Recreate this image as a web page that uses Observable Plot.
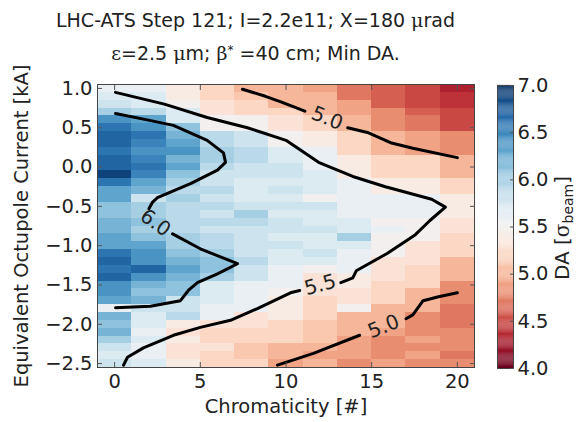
<!DOCTYPE html>
<html><head><meta charset="utf-8">
<script src="https://cdn.jsdelivr.net/npm/d3@7"></script>
<script src="https://cdn.jsdelivr.net/npm/@observablehq/plot@0.6"></script>
<style>
body{margin:0;background:#fff;font-family:"DejaVu Sans",sans-serif;}
#wrap{position:relative;width:583px;height:422px;overflow:hidden;background:#fff}
#wrap svg{position:absolute;left:0;top:0}
.title{position:absolute;left:0;width:511px;text-align:center;font-size:19px;line-height:22px;color:#222;white-space:nowrap}
.greek{font-family:"DejaVu Serif",serif}
#cblabel{position:absolute;left:565px;top:228px;transform:translate(-50%,-50%) rotate(-90deg);font-size:20px;line-height:24px;white-space:nowrap;color:#222}
#cblabel sub{font-size:14px;vertical-align:-4px}
</style></head>
<body><div id="wrap">
<div class="title" style="top:9px">LHC-ATS Step 121; I=2.2e11; X=180 <span class="greek">μ</span>rad</div>
<div class="title" style="top:39px"><span class="greek">ε</span>=2.5 <span class="greek">μ</span>m; <span class="greek">β</span><sup style="font-size:12px;vertical-align:6px">*</sup> =40 cm; Min DA.</div>
<div id="cblabel">DA [<span class="greek">σ</span><sub>beam</sub>]</div>
</div>
<script>
// Chromaticity (column centres) and octupole current (row centres, kA)
const chroma = [0, 2, 4, 6, 8, 10, 12, 14, 16, 18, 20];
const current = [1.0, 0.9, 0.8, 0.7, 0.6, 0.5, 0.4, 0.3, 0.2, 0.1, 0.0,
  -0.1, -0.2, -0.3, -0.4, -0.5, -0.6, -0.7, -0.8, -0.9, -1.0,
  -1.1, -1.2, -1.3, -1.4, -1.5, -1.6, -1.7, -1.8, -1.9, -2.0,
  -2.1, -2.2, -2.3, -2.4, -2.5];

// Min DA [sigma_beam], one array per chromaticity column, rows from 1.0 down to -2.5 kA
const da0  = [5.6,5.7,5.8,6.0,6.4,6.6,6.7,6.7,6.6,6.7,6.7,6.9,6.6,6.3,6.3,6.1,6.1,6.2,6.2,6.3,6.3,6.6,6.7,6.6,6.7,6.4,6.4,6.3,5.6,6.2,6.1,6.2,6.0,5.8,5.7,5.8];
const da2  = [5.6,5.7,5.7,5.9,6.3,6.4,6.6,6.5,6.4,6.5,6.6,6.5,6.3,6.2,5.8,6.0,6.0,6.1,6.0,6.1,6.3,6.4,6.4,6.7,6.4,6.2,6.1,6.2,5.8,5.7,5.7,5.6,5.7,5.6,5.6,5.7];
const da4  = [5.4,5.4,5.5,5.7,5.7,6.1,6.2,6.3,6.4,6.2,6.3,6.1,6.0,5.9,6.0,5.9,5.9,5.9,5.9,6.0,6.0,6.1,6.2,6.3,6.2,6.1,6.1,5.8,5.8,5.9,5.4,5.3,5.4,5.3,5.3,5.4];
const da6  = [5.2,5.2,5.3,5.3,5.5,5.5,5.9,5.9,6.0,6.0,5.9,5.8,5.8,5.9,5.8,5.9,5.8,5.9,5.8,5.9,5.9,6.0,6.1,6.1,6.0,5.7,5.7,5.7,5.6,5.6,5.3,5.2,5.2,5.3,5.2,5.2];
const da8  = [5.0,5.1,5.2,5.2,5.5,5.5,5.8,5.8,5.9,5.9,5.8,5.8,5.7,5.7,5.7,5.8,6.0,5.9,5.8,5.8,5.8,5.8,5.9,5.8,5.8,5.6,5.6,5.6,5.6,5.3,5.3,5.2,5.2,5.1,5.1,5.2];
const da10 = [5.0,5.0,5.0,5.2,5.3,5.3,5.5,5.5,5.7,5.7,5.8,5.8,5.7,5.8,5.7,5.8,5.7,5.8,5.8,5.7,5.8,5.7,5.7,5.6,5.6,5.6,5.5,5.4,5.4,5.4,5.2,5.2,5.2,5.0,5.0,4.9];
const da12 = [4.9,5.0,5.0,5.0,5.2,5.2,5.4,5.4,5.6,5.6,5.6,5.7,5.7,5.7,5.5,5.8,5.7,5.7,5.8,5.7,5.7,5.8,5.7,5.5,5.3,5.3,5.3,5.2,5.2,5.2,5.1,5.1,5.1,5.0,4.9,5.0];
const da14 = [4.7,4.7,4.9,4.9,5.0,5.0,5.2,5.2,5.2,5.4,5.4,5.4,5.6,5.6,5.6,5.6,5.6,5.7,5.7,6.0,5.7,5.6,5.6,5.6,5.4,5.4,5.3,5.3,5.5,5.0,5.0,5.0,4.9,4.9,4.9,4.8];
const da16 = [4.6,4.6,4.6,4.8,4.8,4.8,5.0,5.0,5.0,5.2,5.2,5.2,5.4,5.4,5.6,5.6,5.6,5.5,5.6,5.5,5.5,5.5,5.3,5.3,5.3,5.2,5.2,5.2,5.0,5.0,5.0,4.9,4.8,4.8,4.8,4.9];
const da18 = [4.5,4.5,4.5,4.6,4.7,4.7,4.9,4.9,4.9,5.2,5.2,5.2,5.4,5.4,5.6,5.6,5.6,5.5,5.5,5.5,5.3,5.3,5.3,5.2,5.2,5.2,5.0,5.0,5.0,4.8,4.8,4.8,4.9,4.8,4.9,4.8];
const da20 = [4.3,4.4,4.4,4.5,4.5,4.5,4.8,4.8,4.8,5.0,5.0,5.0,5.2,5.2,5.4,5.4,5.4,5.3,5.3,5.2,5.2,5.2,5.0,5.0,5.0,4.8,4.8,4.8,4.7,4.7,4.7,4.8,4.8,4.8,4.7,4.8];
const daColumns = [da0, da2, da4, da6, da8, da10, da12, da14, da16, da18, da20];

// Contour lines [chromaticity, current], split where the level label sits
const c60a = [[0.05,0.68],[1.9,0.60],[3.43,0.53],[5.4,0.34],[6.35,0.18],[6.47,0.06],[6.0,-0.04],[4.43,-0.21],[2.5,-0.39],[2.2,-0.45],[2.0,-0.53]];
const c60b = [[3.38,-0.85],[5.0,-1.04],[7.17,-1.23],[6.0,-1.36],[4.83,-1.47],[4.3,-1.57],[3.84,-1.70],[2.09,-1.77],[0.05,-1.79]];
const c55a = [[0.05,0.95],[2.9,0.80],[5.4,0.63],[7.75,0.50],[10.0,0.34],[11.9,0.06],[13.9,-0.12],[15.8,-0.25],[18.5,-0.41],[19.3,-0.51],[18.4,-0.68],[17.55,-0.86],[15.9,-1.10],[14.1,-1.32],[13.9,-1.41],[13.2,-1.47]];
const c55b = [[10.8,-1.57],[10.26,-1.60],[8.33,-1.80],[6.76,-1.95],[5.0,-2.04],[3.43,-2.14],[1.68,-2.30],[0.75,-2.42],[0.52,-2.52]];
const c50a = [[7.46,0.99],[8.8,0.90],[9.7,0.83],[11.1,0.71]];
const c50b = [[13.6,0.50],[14.75,0.44],[16.1,0.31],[17.4,0.24],[20.0,0.12]];
const c50c = [[9.5,-2.52],[11.6,-2.37],[14.3,-2.14]];
const c50d = [[17.0,-1.93],[17.4,-1.88],[18.0,-1.70],[18.9,-1.65],[20.0,-1.60]];
const contourSegments = [c60a, c60b, c55a, c55b, c50a, c50b, c50c, c50d];

// Contour level labels
const labelText = ["6.0", "5.5", "5.0", "5.0"];
const labelC = [2.38, 12.0, 12.4, 15.7];
const labelY = [-0.71, -1.50, 0.62, -2.03];
const labelAngle = [35, -15, 22, -22];

const xTicks = [0, 5, 10, 15, 20];
const yTicks = [1.0, 0.5, 0.0, -0.5, -1.0, -1.5, -2.0, -2.5];
const cbTicks = [4.0, 4.5, 5.0, 5.5, 6.0, 6.5, 7.0];

const cells = chroma.flatMap((c, j) => current.map((y, i) => ({c, y, v: daColumns[j][i]})));
const contours = contourSegments.flatMap((seg, k) => seg.map(([c, y]) => ({c, y, seg: k})));
const labels = labelText.map((t, i) => ({t, c: labelC[i], y: labelY[i], r: labelAngle[i]}));

const color = {type: "linear", scheme: "rdbu", domain: [4, 7]};
const baseStyle = {background: "transparent", fontFamily: "DejaVu Sans, sans-serif", fontSize: "19.5px", color: "#222"};

const main = Plot.plot({
  width: 583, height: 422,
  marginLeft: 97, marginRight: 109, marginTop: 84, marginBottom: 55,
  style: baseStyle,
  x: {domain: [-1, 21]},
  y: {domain: [-2.55, 1.05]},
  color,
  marks: [
    Plot.rect(cells, {x1: d => d.c - 1, x2: d => d.c + 1, y1: d => d.y - 0.05, y2: d => d.y + 0.05, fill: "v", shapeRendering: "crispEdges"}),
    Plot.line(contours, {x: "c", y: "y", z: "seg", stroke: "#000", strokeWidth: 3, strokeLinejoin: "round"}),
    Plot.text(labels, {x: "c", y: "y", text: "t", rotate: "r", fontSize: 20, fill: "#222"}),
    Plot.frame({stroke: "#444"}),
    Plot.axisX({anchor: "bottom", ticks: xTicks, tickSize: -5, tickFormat: () => "", label: null, stroke: "#555"}),
    Plot.axisX({anchor: "top", ticks: xTicks, tickSize: -5, tickFormat: () => "", label: null, stroke: "#555"}),
    Plot.axisY({anchor: "left", ticks: yTicks, tickSize: -5, tickFormat: () => "", label: null, stroke: "#555"}),
    Plot.axisY({anchor: "right", ticks: yTicks, tickSize: -5, tickFormat: () => "", label: null, stroke: "#555"}),
    Plot.axisX({anchor: "bottom", ticks: xTicks, tickSize: 0, tickPadding: 7, tickFormat: "d",
      label: "Chromaticity [#]", labelAnchor: "center", labelOffset: 45, labelArrow: "none"}),
    Plot.axisY({anchor: "left", ticks: yTicks, tickSize: 0, tickPadding: 5, tickFormat: ".1f",
      label: "Equivalent Octupole Current [kA]", labelAnchor: "center", labelOffset: 83, labelArrow: "none"})
  ]
});

const cbSteps = d3.range(4, 7, 0.01);
const cbar = Plot.plot({
  width: 583, height: 422,
  marginLeft: 497, marginRight: 70, marginTop: 85, marginBottom: 54,
  style: baseStyle,
  x: {domain: [0, 1], axis: null},
  y: {domain: [4, 7], axis: null},
  color,
  marks: [
    Plot.rect(cbSteps, {x1: 0, x2: 1, y1: d => d, y2: d => d + 0.011, fill: d => d + 0.005}),
    Plot.frame({stroke: "#444"}),
    Plot.axisY({anchor: "right", ticks: cbTicks, tickSize: -4, tickFormat: () => "", label: null, stroke: "#555"}),
    Plot.axisY({anchor: "right", ticks: cbTicks, tickSize: 0, tickPadding: 4, tickFormat: ".1f", label: null})
  ]
});

const wrap = document.getElementById("wrap");
wrap.insertBefore(main, wrap.firstChild);
wrap.insertBefore(cbar, wrap.firstChild.nextSibling);
</script>
</body></html>
